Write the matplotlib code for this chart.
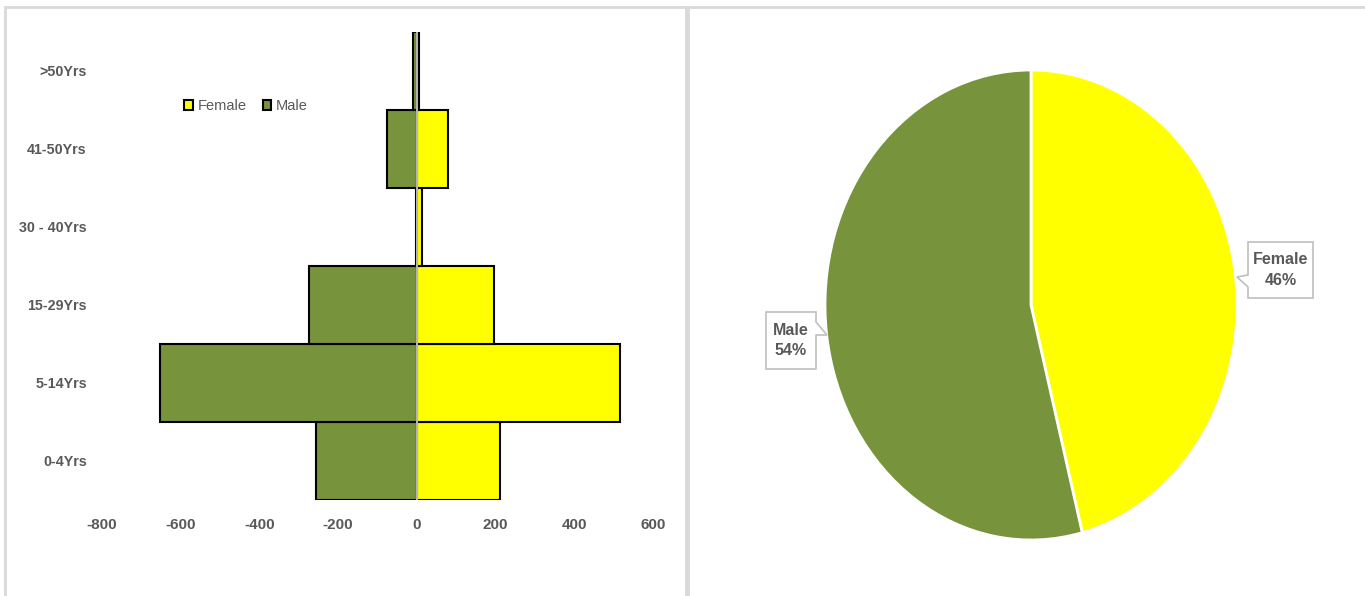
import numpy as np
import matplotlib
matplotlib.use('Agg')
import matplotlib.pyplot as plt
from matplotlib.patches import Rectangle, Polygon

# age pyramid data
age_groups = ['0-4Yrs', '5-14Yrs', '15-29Yrs', '30 - 40Yrs', '41-50Yrs', '>50Yrs']
male = [-256, -653, -274, -1, -76, -9]
female = [212, 517, 197, 14, 78, 6]
xticks = [-800, -600, -400, -200, 0, 200, 400, 600]

# pie data
pie_labels = ['Female', 'Male']
pie_values = [46, 54]

green = '#77933C'
yellow = '#FFFF00'
grey = '#595959'

plt.rcParams['font.family'] = ['Liberation Sans', 'DejaVu Sans']

fig = plt.figure(figsize=(13.65, 5.96), dpi=100)
W, H = 1365, 596


def fx(px):
    return px / W


def fy(py):
    return 1 - py / H


# panel frames
fig.add_artist(Rectangle((fx(5), -0.05), 681 / W, 1 - 7 / H + 0.05, transform=fig.transFigure,
                         fill=False, edgecolor='#d9d9d9', linewidth=2))
fig.add_artist(Rectangle((fx(688), -0.05), 690 / W, 1 - 7 / H + 0.05, transform=fig.transFigure,
                         fill=False, edgecolor='#d9d9d9', linewidth=2))

# left: pyramid
ax = fig.add_axes([fx(102), fy(500), 551 / W, 468 / H])
y = np.arange(len(age_groups))
ax.barh(y, male, height=1.0, color=green, edgecolor='black', linewidth=1.5, label='Male')
ax.barh(y, female, height=1.0, color=yellow, edgecolor='black', linewidth=1.5, label='Female')
ax.axvline(0, color='#d9d9d9', linewidth=1.2, zorder=5)
ax.set_xlim(-800, 600)
ax.set_ylim(-0.5, 5.5)
ax.set_xticks(xticks)
ax.set_xticklabels([str(t) for t in xticks], fontsize=11, color=grey, fontweight='bold')
ax.set_yticks(y)
ax.set_yticklabels(age_groups, fontsize=10.3, color=grey, fontweight='bold')
ax.tick_params(axis='both', length=0)
ax.tick_params(axis='x', pad=13)
ax.tick_params(axis='y', pad=11)
for s in ax.spines.values():
    s.set_visible(False)
handles, labels = ax.get_legend_handles_labels()
leg = ax.legend(handles[::-1], labels[::-1], loc='center left', bbox_to_anchor=(0.139, 0.842),
                ncol=2, frameon=False, fontsize=10.5, handlelength=0.6, handleheight=0.7,
                handletextpad=0.3, columnspacing=1.1, borderaxespad=0)
for t in leg.get_texts():
    t.set_color(grey)

# right: pie (stretched vertically like the source)
ax2 = fig.add_axes([fx(825), fy(540), 412 / W, 470 / H])
ax2.pie(pie_values, colors=[yellow, green], startangle=90, counterclock=False,
        wedgeprops=dict(edgecolor='white', linewidth=2))
ax2.set_aspect('auto')
ax2.set_xlim(-1, 1)
ax2.set_ylim(-1, 1)


def callout(pts, box, text):
    poly = Polygon([(fx(a), fy(b)) for a, b in pts], closed=True, transform=fig.transFigure,
                   facecolor='white', edgecolor='#bfbfbf', linewidth=1.2, zorder=10)
    fig.add_artist(poly)
    x0, y0, x1, y1 = box
    fig.text(fx((x0 + x1) / 2), fy((y0 + y1) / 2), text, ha='center', va='center',
             fontsize=11.5, fontweight='bold', color=grey, linespacing=1.45, zorder=11)


# female label box with pointer on its left side
callout([(1248, 242), (1313, 242), (1313, 298), (1248, 298), (1248, 287), (1237, 277), (1248, 275)],
        (1248, 242, 1313, 298), f'{pie_labels[0]}\n{pie_values[0]}%')
# male label box with pointer on its right side
callout([(766, 312), (816, 312), (816, 322), (827, 335), (816, 335), (816, 369), (766, 369)],
        (766, 312, 816, 369), f'{pie_labels[1]}\n{pie_values[1]}%')

fig.savefig('out.png', dpi=100)
